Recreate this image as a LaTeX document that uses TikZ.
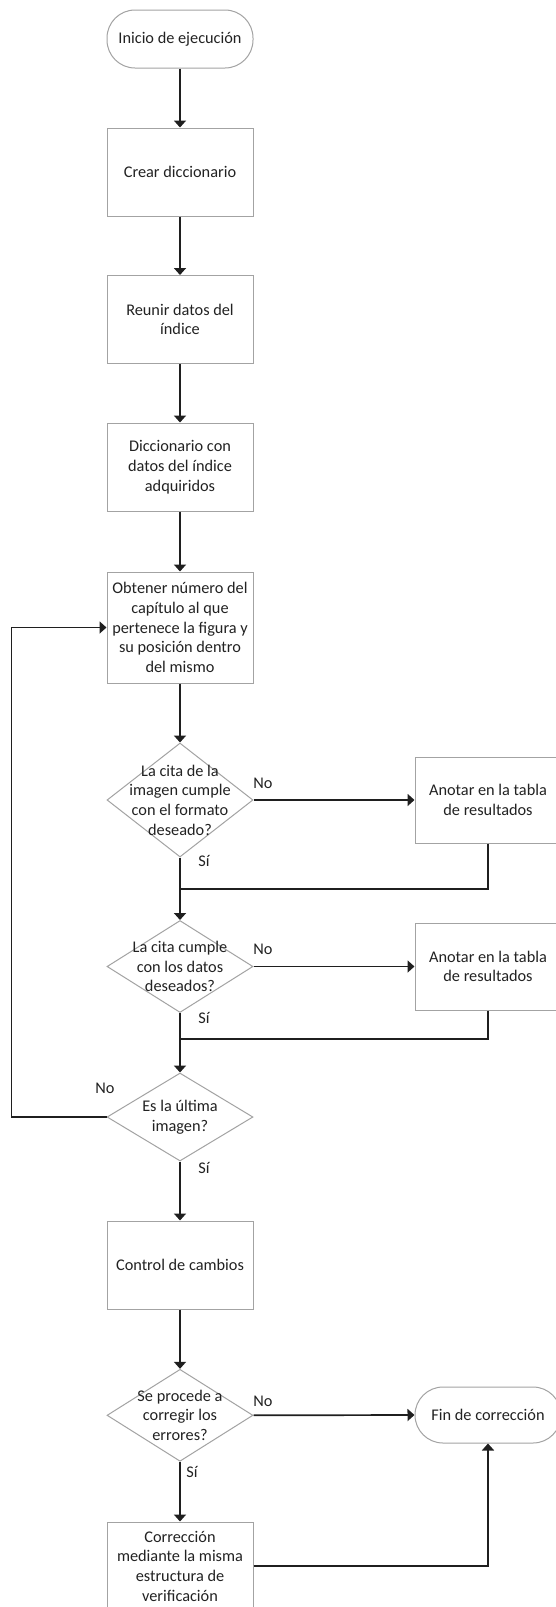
\documentclass[tikz,border=0pt]{standalone}
\usepackage{fontspec}
\setmainfont{Carlito}
\usetikzlibrary{arrows.meta,shapes.geometric}
\definecolor{txt}{HTML}{222222}
\definecolor{bord}{HTML}{A3A3A3}
\definecolor{conn}{HTML}{1F1F1F}
\begin{document}
\begin{tikzpicture}[x=1pt,y=-1pt,
  every node/.style={font=\fontsize{16.3}{19.7}\selectfont, text=txt},
  proc/.style={draw=bord, line width=1pt, rectangle, minimum width=146pt, minimum height=88pt, inner sep=0pt, align=center},
  term/.style={draw=bord, line width=1pt, rectangle, rounded corners=28pt, minimum width=146pt, minimum height=58pt, inner sep=0pt, align=center},
  dec/.style={draw=bord, line width=1pt, diamond, minimum width=146pt, inner sep=0pt},
  dtext/.style={align=center, inner sep=0pt},
  flow/.style={line width=1.7pt, draw=conn, -{Triangle[width=12pt,length=7pt]}},
  link/.style={line width=1.7pt, draw=conn},
  lbl/.style={inner sep=0pt}]
\clip (0,0) rectangle (556,1607);
\fill[white] (0,0) rectangle (556,1607);
% nodes
\node[term] (start) at (180,39) {Inicio de ejecución};
\node[proc] (crear) at (180,172) {Crear diccionario};
\node[proc] (reunir) at (180,319.5) {Reunir datos del\\índice};
\node[proc] (dicc) at (180,467) {Diccionario con\\datos del índice\\adquiridos};
\node[proc, minimum height=111pt] (obt) at (180,627.5) {Obtener número del\\capítulo al que\\pertenece la figura y\\su posición dentro\\del mismo};
\node[dec, minimum height=114pt] (d1) at (180,800) {};
\node[dtext] (d1t) at (d1.center) {La cita de la\\imagen cumple\\con el formato\\deseado?};
\node[proc, minimum height=86pt] (an1) at (488,800) {Anotar en la tabla\\de resultados};
\node[dec, minimum height=92pt] (d2) at (180,966.5) {};
\node[dtext] (d2t) at (d2.center) {La cita cumple\\con los datos\\deseados?};
\node[proc, minimum height=87pt] (an2) at (488,966.5) {Anotar en la tabla\\de resultados};
\node[dec, minimum height=88pt] (d3) at (180,1117) {};
\node[dtext] (d3t) at (d3.center) {Es la última\\imagen?};
\node[proc] (ctrl) at (180,1265) {Control de cambios};
\node[dec, minimum height=92pt] (d4) at (180,1415.3) {};
\node[dtext] (d4t) at (d4.center) {Se procede a\\corregir los\\errores?};
\node[term, minimum height=56pt] (fin) at (488,1415) {Fin de corrección};
\node[proc] (corr) at (180,1566) {Corrección\\mediante la misma\\estructura de\\verificación};
% helper coordinates
\coordinate (j1) at (180,889);
\coordinate (j2) at (180,1039);
\coordinate (lp) at (11.5,627.5);
% connectors
\draw[flow] (start.south) -- (crear.north);
\draw[flow] (crear.south) -- (reunir.north);
\draw[flow] (reunir.south) -- (dicc.north);
\draw[flow] (dicc.south) -- (obt.north);
\draw[flow] (obt.south) -- (d1.north);
\draw[flow] (d1.east) -- (an1.west);
\draw[flow] (d1.south) -- (d2.north);
\draw[link] (an1.south) |- (j1);
\draw[flow] (d2.east) -- (an2.west);
\draw[flow] (d2.south) -- (d3.north);
\draw[link] (an2.south) |- (j2);
\draw[flow] (d3.west) -| (lp) -- (obt.west);
\draw[flow] (d3.south) -- (ctrl.north);
\draw[flow] (ctrl.south) -- (d4.north);
\draw[flow] (d4.east) -- (fin.west);
\draw[flow] (d4.south) -- (corr.north);
\draw[flow] (corr.east) -| (fin.south);
% labels
\node[lbl] (no1) at (263,783) {No};
\node[lbl] (si1) at (204,861) {Sí};
\node[lbl] (no2) at (263,949) {No};
\node[lbl] (si2) at (204,1018) {Sí};
\node[lbl] (no3) at (105,1088) {No};
\node[lbl] (si3) at (204,1168) {Sí};
\node[lbl] (no4) at (263,1401) {No};
\node[lbl] (si4) at (192,1472) {Sí};
\end{tikzpicture}
\end{document}
